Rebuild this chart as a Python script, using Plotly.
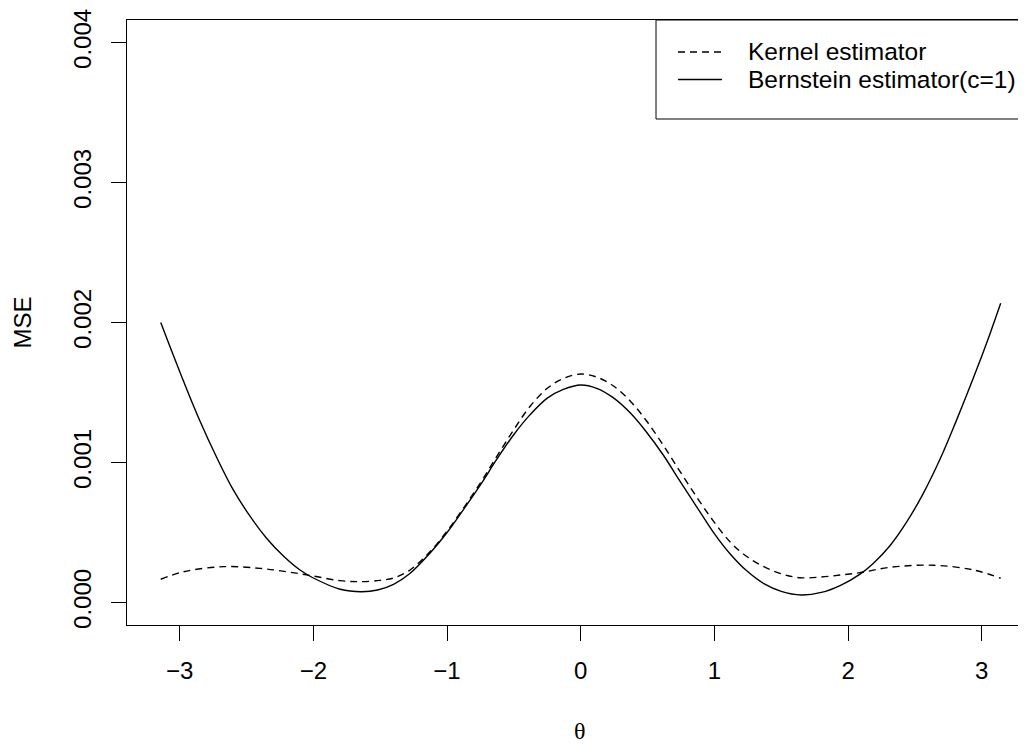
import plotly.graph_objects as go

# ---- data ----
theta_bern = [-3.1416, -3.07, -2.97, -2.85, -2.72, -2.60, -2.47, -2.35, -2.22, -2.10,
              -2.00, -1.80, -1.64, -1.52, -1.40, -1.28, -1.13, -1.00, -0.88, -0.75,
              -0.63, -0.50, -0.38, -0.25, -0.13, 0.00, 0.12, 0.24, 0.37, 0.49,
              0.62, 0.74, 0.87, 0.99, 1.12, 1.24, 1.37, 1.50, 1.65, 1.80,
              1.94, 2.09, 2.19, 2.31, 2.44, 2.56, 2.69, 2.81, 2.94, 3.06, 3.1416]
mse_bern = [0.002000, 0.001822, 0.001578, 0.001300, 0.001030, 0.000806, 0.000611, 0.000459, 0.000328, 0.000232,
            0.000175, 0.000095, 0.000077, 0.000089, 0.000130, 0.000205, 0.000350, 0.000500, 0.000660, 0.000840,
            0.001020, 0.001200, 0.001340, 0.001460, 0.001522, 0.001554, 0.001530, 0.001465, 0.001355, 0.001220,
            0.001050, 0.000870, 0.000680, 0.000505, 0.000345, 0.000228, 0.000135, 0.000080, 0.000054, 0.000072,
            0.000121, 0.000203, 0.000281, 0.000402, 0.000578, 0.000774, 0.001028, 0.001299, 0.001610, 0.001915, 0.002137]

theta_kernel = [-3.1416, -2.97, -2.67, -2.40, -2.20, -2.00, -1.80, -1.65, -1.50, -1.40,
                -1.28, -1.13, -1.00, -0.88, -0.75, -0.63, -0.50, -0.38, -0.25, -0.13,
                0.00, 0.12, 0.24, 0.37, 0.49, 0.62, 0.74, 0.87, 0.99, 1.12,
                1.24, 1.37, 1.50, 1.64, 1.80, 1.94, 2.09, 2.31, 2.64, 2.94, 3.1416]
mse_kernel = [0.000166, 0.000220, 0.000256, 0.000244, 0.000220, 0.000189, 0.000156, 0.000149, 0.000158, 0.000175,
              0.000230, 0.000360, 0.000510, 0.000670, 0.000855, 0.001040, 0.001235, 0.001400, 0.001530, 0.001600,
              0.001632, 0.001610, 0.001550, 0.001440, 0.001300, 0.001120, 0.000940, 0.000750, 0.000585, 0.000430,
              0.000330, 0.000256, 0.000205, 0.000177, 0.000182, 0.000196, 0.000213, 0.000251, 0.000266, 0.000232, 0.000173]

series_names = ["Kernel estimator", "Bernstein estimator(c=1)"]
x_tick_vals = [-3, -2, -1, 0, 1, 2, 3]
x_tick_text = ["\u22123", "\u22122", "\u22121", "0", "1", "2", "3"]
y_tick_vals = [0.000, 0.001, 0.002, 0.003, 0.004]
y_tick_text = ["0.000", "0.001", "0.002", "0.003", "0.004"]
x_title = "\u03b8"
y_title = "MSE"

# ---- layout geometry (page has an 8px body margin) ----
OFF = 8
W, H = 1026 - OFF, 748 - OFF
ML, MR, MT = 127 - OFF, 0, 20 - OFF
PH = 605
MB = H - MT - PH
PW = W - ML - MR
FONT = "Liberation Sans, Arial, Helvetica, sans-serif"
FS = 24
LFS = 24.5
DASH = "7px,5px"
LW = 1.4


def px2x(px):
    return (px - OFF - ML) / PW


def py2y(py):
    return (MT + PH - (py - OFF)) / PH


fig = go.Figure()
fig.add_trace(go.Scatter(x=theta_kernel, y=mse_kernel, mode="lines", name=series_names[0],
                         line=dict(color="black", width=LW, dash=DASH, shape="spline", smoothing=1.0),
                         showlegend=False))
fig.add_trace(go.Scatter(x=theta_bern, y=mse_bern, mode="lines", name=series_names[1],
                         line=dict(color="black", width=LW, shape="spline", smoothing=1.0),
                         showlegend=False))

fig.update_layout(
    width=W, height=H, autosize=False,
    margin=dict(l=ML, r=MR, t=MT, b=MB, pad=0),
    paper_bgcolor="white", plot_bgcolor="white",
    font=dict(family=FONT, size=FS, color="black"),
    showlegend=False,
)
fig.update_xaxes(range=[-3.394, 3.331], tickvals=x_tick_vals, ticktext=x_tick_text,
                 ticks="outside", ticklen=15, tickwidth=1, tickcolor="black",
                 showline=True, linecolor="black", linewidth=1, mirror=True,
                 showgrid=False, zeroline=False, tickfont=dict(size=FS),
                 ticklabelstandoff=9)
fig.update_yaxes(range=[-0.0001607, 0.0041607], tickvals=y_tick_vals, ticktext=y_tick_text,
                 ticks="outside", ticklen=15, tickwidth=1, tickcolor="black",
                 showline=True, linecolor="black", linewidth=1, mirror=False,
                 showgrid=False, zeroline=False, tickangle=-90, tickfont=dict(size=FS),
                 ticklabelstandoff=10)

# axis titles
fig.add_annotation(x=px2x(22), y=py2y(322.5), xref="paper", yref="paper", text=y_title,
                   textangle=-90, showarrow=False, xanchor="center", yanchor="middle",
                   font=dict(size=FS, family=FONT))
fig.add_annotation(x=px2x(580), y=py2y(731), xref="paper", yref="paper", text=x_title,
                   showarrow=False, xanchor="center", yanchor="middle",
                   font=dict(size=FS, family="Liberation Serif, Times New Roman, serif"))

# legend box (right side runs off the page like the reference)
fig.add_shape(type="rect", xref="paper", yref="paper",
              x0=px2x(656), x1=px2x(1080), y0=py2y(119), y1=py2y(20),
              line=dict(color="black", width=1), fillcolor="white", layer="above")
rows = [52, 79.5]
dashes = [DASH, "solid"]
for name, ry, d in zip(series_names, rows, dashes):
    fig.add_shape(type="line", xref="paper", yref="paper",
                  x0=px2x(678), x1=px2x(722), y0=py2y(ry), y1=py2y(ry),
                  line=dict(color="black", width=LW, dash=d), layer="above")
    fig.add_annotation(x=px2x(746), y=py2y(ry), xref="paper", yref="paper", text=name,
                       showarrow=False, xanchor="left", yanchor="middle",
                       font=dict(size=LFS, family=FONT))

fig.write_html("out.html")
